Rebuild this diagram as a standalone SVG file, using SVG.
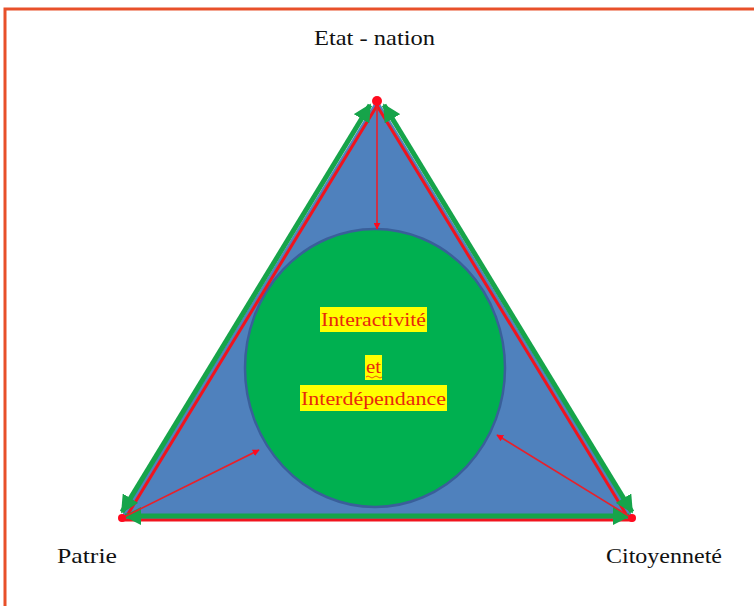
<svg xmlns="http://www.w3.org/2000/svg" width="754" height="606" viewBox="0 0 754 606">
<defs>
<style>
.lbl{font-family:"Liberation Serif","Times New Roman",serif;font-size:21px;fill:#111}
.inner{font-family:"Liberation Serif","Times New Roman",serif;font-size:19px;fill:#e8280c}
.hl{fill:#ffff00}
.red{stroke:#e8202a;stroke-width:1.6;fill:none}
.redEdge{stroke:#f0141e;stroke-width:3;fill:none;stroke-linecap:round}
.green{stroke:#16a44a;stroke-width:5;fill:none}
</style>
<marker id="ra" viewBox="0 0 10 10" refX="9" refY="5" markerWidth="7" markerHeight="7" orient="auto" markerUnits="userSpaceOnUse">
<path d="M0,0 L10,5 L0,10 z" fill="#ff0a1e"/>
</marker>
<marker id="ga" viewBox="0 0 10 10" refX="9" refY="5" markerWidth="18" markerHeight="18" orient="auto-start-reverse" markerUnits="userSpaceOnUse">
<path d="M0,0 L10,5 L0,10 z" fill="#16a44a"/>
</marker>
</defs>
<rect width="754" height="606" fill="#ffffff"/>
<path d="M5,610 L5,9 L760,9" fill="none" stroke="#e8502a" stroke-width="3"/>

<g id="triangle">
<polygon points="377,99 119,520 635,520" fill="#4f81bd"/>
</g>

<g id="circle">
<ellipse cx="375" cy="368" rx="130" ry="139" fill="#00b050" stroke="#3a5f9a" stroke-width="2.5"/>
</g>

<g id="connectors">
<line class="redEdge" x1="378" y1="104" x2="128" y2="514"/>
<line class="redEdge" x1="376" y1="104" x2="626" y2="514"/>
<line class="redEdge" x1="122" y1="520" x2="632" y2="520"/>
<line class="green" x1="122" y1="512" x2="370" y2="105" marker-start="url(#ga)" marker-end="url(#ga)"/>
<line class="green" x1="632" y1="512" x2="384" y2="105" marker-start="url(#ga)" marker-end="url(#ga)"/>
<line class="green" x1="125" y1="516" x2="629" y2="516" marker-start="url(#ga)" marker-end="url(#ga)"/>
<line class="red" x1="377" y1="100" x2="377" y2="229" marker-end="url(#ra)"/>
<line class="red" x1="122" y1="518" x2="259" y2="450" marker-end="url(#ra)"/>
<line class="red" x1="632" y1="518" x2="497" y2="435" marker-end="url(#ra)"/>
<circle cx="377" cy="101" r="5" fill="#ff0a1e"/>
<circle cx="122" cy="518" r="4" fill="#ff0a1e"/>
<circle cx="632" cy="518" r="4" fill="#ff0a1e"/>
</g>

<g id="etat-nation">
<text class="lbl" x="314" y="45" textLength="121" lengthAdjust="spacingAndGlyphs">Etat - nation</text>
</g>
<g id="patrie">
<text class="lbl" x="57" y="563" textLength="60" lengthAdjust="spacingAndGlyphs">Patrie</text>
</g>
<g id="citoyennete">
<text class="lbl" x="606" y="563" textLength="116" lengthAdjust="spacingAndGlyphs">Citoyenneté</text>
</g>

<g id="center-text">
<rect class="hl" x="320" y="307" width="107" height="25"/>
<text class="inner" x="321" y="326" textLength="105" lengthAdjust="spacingAndGlyphs">Interactivité</text>
<rect class="hl" x="365" y="355" width="17" height="25"/>
<text class="inner" x="366" y="373" textLength="15" lengthAdjust="spacingAndGlyphs">et</text>
<path d="M366,377 q2,-2 4,0 t4,0 t4,0 t4,0" fill="none" stroke="#e8280c" stroke-width="0.8"/>
<rect class="hl" x="300" y="385" width="147" height="26"/>
<text class="inner" x="301" y="405" textLength="145" lengthAdjust="spacingAndGlyphs">Interdépendance</text>
</g>
</svg>
